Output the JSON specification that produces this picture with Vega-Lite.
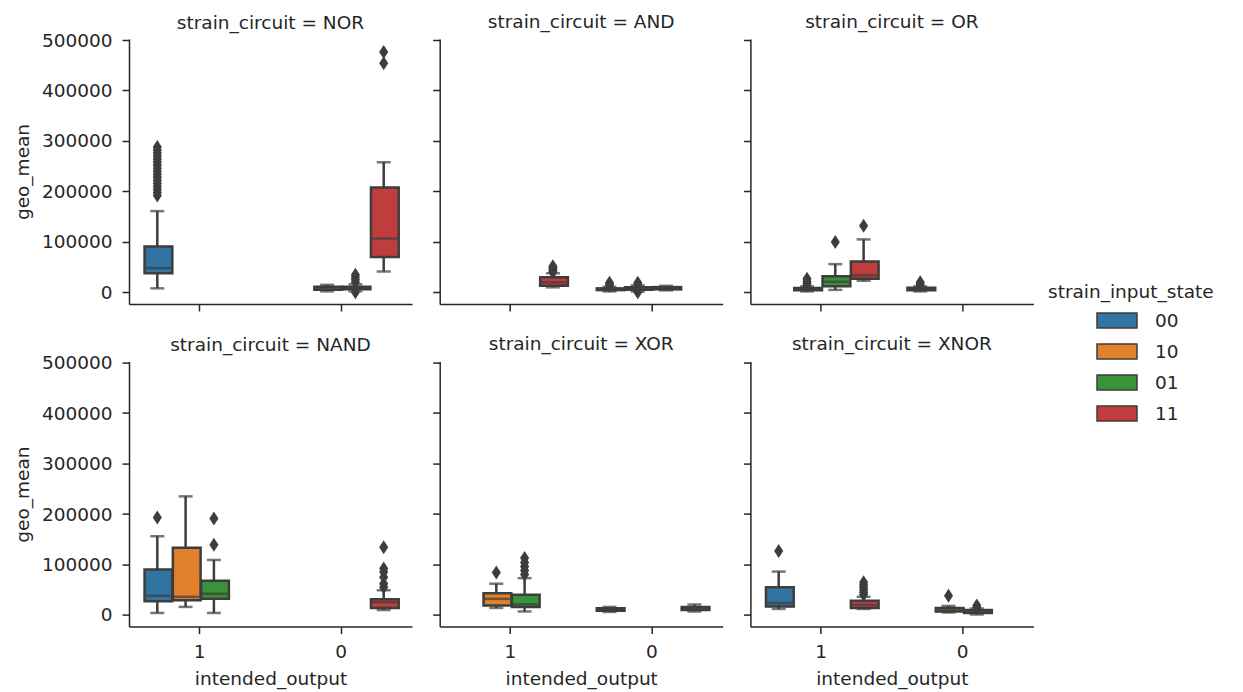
{
"$schema": "https://vega.github.io/schema/vega-lite/v6.json",
"padding": {"left": 13, "top": 12, "right": 5, "bottom": 2},
"datasets": {
"boxes": [
{"circuit":"NOR","output":"1","state":"00","lo":8000,"q1":38000,"med":48000,"q3":91000,"hi":161000},
{"circuit":"NOR","output":"0","state":"10","lo":2000,"q1":5000,"med":8000,"q3":11000,"hi":15000},
{"circuit":"NOR","output":"0","state":"01","lo":2000,"q1":6000,"med":8500,"q3":11000,"hi":16000},
{"circuit":"NOR","output":"0","state":"11","lo":41600,"q1":70000,"med":107000,"q3":208000,"hi":258000},
{"circuit":"AND","output":"1","state":"11","lo":10000,"q1":13000,"med":20000,"q3":30000,"hi":38000},
{"circuit":"AND","output":"0","state":"00","lo":2000,"q1":4500,"med":6000,"q3":8000,"hi":11000},
{"circuit":"AND","output":"0","state":"10","lo":1500,"q1":5000,"med":7500,"q3":10000,"hi":14000},
{"circuit":"AND","output":"0","state":"01","lo":4000,"q1":6000,"med":8000,"q3":10500,"hi":13000},
{"circuit":"OR","output":"0","state":"00","lo":2000,"q1":4000,"med":6000,"q3":9000,"hi":12000},
{"circuit":"OR","output":"1","state":"10","lo":2000,"q1":4000,"med":6000,"q3":8500,"hi":12000},
{"circuit":"OR","output":"1","state":"01","lo":5000,"q1":12000,"med":21000,"q3":32000,"hi":56000},
{"circuit":"OR","output":"1","state":"11","lo":23000,"q1":27000,"med":34000,"q3":61000,"hi":105000},
{"circuit":"NAND","output":"1","state":"00","lo":4000,"q1":27000,"med":38000,"q3":90000,"hi":156000},
{"circuit":"NAND","output":"1","state":"10","lo":16000,"q1":29000,"med":36000,"q3":133000,"hi":235000},
{"circuit":"NAND","output":"1","state":"01","lo":4000,"q1":32000,"med":42000,"q3":68000,"hi":109000},
{"circuit":"NAND","output":"0","state":"11","lo":10000,"q1":14000,"med":25000,"q3":31000,"hi":49000},
{"circuit":"XOR","output":"1","state":"10","lo":14000,"q1":19000,"med":32000,"q3":43000,"hi":62000},
{"circuit":"XOR","output":"1","state":"01","lo":7000,"q1":16000,"med":21000,"q3":40000,"hi":73000},
{"circuit":"XOR","output":"0","state":"00","lo":6000,"q1":8500,"med":11000,"q3":13500,"hi":16000},
{"circuit":"XOR","output":"0","state":"11","lo":7000,"q1":10000,"med":13000,"q3":16000,"hi":21000},
{"circuit":"XNOR","output":"1","state":"00","lo":12000,"q1":17000,"med":24000,"q3":55000,"hi":86000},
{"circuit":"XNOR","output":"1","state":"11","lo":12000,"q1":14000,"med":20000,"q3":28000,"hi":36000},
{"circuit":"XNOR","output":"0","state":"10","lo":5000,"q1":7000,"med":10000,"q3":14000,"hi":18000},
{"circuit":"XNOR","output":"0","state":"01","lo":1000,"q1":4000,"med":7000,"q3":10000,"hi":13000}
],
"outliers": [
{"circuit":"NOR","output":"1","state":"00","v":192000},
{"circuit":"NOR","output":"1","state":"00","v":198000},
{"circuit":"NOR","output":"1","state":"00","v":204000},
{"circuit":"NOR","output":"1","state":"00","v":210000},
{"circuit":"NOR","output":"1","state":"00","v":216000},
{"circuit":"NOR","output":"1","state":"00","v":222000},
{"circuit":"NOR","output":"1","state":"00","v":228000},
{"circuit":"NOR","output":"1","state":"00","v":234000},
{"circuit":"NOR","output":"1","state":"00","v":240000},
{"circuit":"NOR","output":"1","state":"00","v":246000},
{"circuit":"NOR","output":"1","state":"00","v":252000},
{"circuit":"NOR","output":"1","state":"00","v":258000},
{"circuit":"NOR","output":"1","state":"00","v":264000},
{"circuit":"NOR","output":"1","state":"00","v":270000},
{"circuit":"NOR","output":"1","state":"00","v":276000},
{"circuit":"NOR","output":"1","state":"00","v":282000},
{"circuit":"NOR","output":"1","state":"00","v":288000},
{"circuit":"NOR","output":"0","state":"01","v":20000},
{"circuit":"NOR","output":"0","state":"01","v":25000},
{"circuit":"NOR","output":"0","state":"01","v":30000},
{"circuit":"NOR","output":"0","state":"01","v":35000},
{"circuit":"NOR","output":"0","state":"01","v":300},
{"circuit":"NOR","output":"0","state":"11","v":454000},
{"circuit":"NOR","output":"0","state":"11","v":476000},
{"circuit":"AND","output":"1","state":"11","v":40000},
{"circuit":"AND","output":"1","state":"11","v":43000},
{"circuit":"AND","output":"1","state":"11","v":46000},
{"circuit":"AND","output":"1","state":"11","v":49000},
{"circuit":"AND","output":"1","state":"11","v":52000},
{"circuit":"AND","output":"0","state":"00","v":13000},
{"circuit":"AND","output":"0","state":"00","v":16000},
{"circuit":"AND","output":"0","state":"00","v":19000},
{"circuit":"AND","output":"0","state":"10","v":16000},
{"circuit":"AND","output":"0","state":"10","v":19000},
{"circuit":"AND","output":"0","state":"10","v":200},
{"circuit":"OR","output":"0","state":"00","v":14000},
{"circuit":"OR","output":"0","state":"00","v":17000},
{"circuit":"OR","output":"0","state":"00","v":20000},
{"circuit":"OR","output":"1","state":"10","v":14000},
{"circuit":"OR","output":"1","state":"10","v":18000},
{"circuit":"OR","output":"1","state":"10","v":22000},
{"circuit":"OR","output":"1","state":"10","v":27000},
{"circuit":"OR","output":"1","state":"01","v":100000},
{"circuit":"OR","output":"1","state":"11","v":132000},
{"circuit":"NAND","output":"1","state":"00","v":193000},
{"circuit":"NAND","output":"1","state":"01","v":139000},
{"circuit":"NAND","output":"1","state":"01","v":191000},
{"circuit":"NAND","output":"0","state":"11","v":55000},
{"circuit":"NAND","output":"0","state":"11","v":62000},
{"circuit":"NAND","output":"0","state":"11","v":75000},
{"circuit":"NAND","output":"0","state":"11","v":85000},
{"circuit":"NAND","output":"0","state":"11","v":92000},
{"circuit":"NAND","output":"0","state":"11","v":134000},
{"circuit":"XOR","output":"1","state":"10","v":84000},
{"circuit":"XOR","output":"1","state":"01","v":80000},
{"circuit":"XOR","output":"1","state":"01","v":88000},
{"circuit":"XOR","output":"1","state":"01","v":96000},
{"circuit":"XOR","output":"1","state":"01","v":104000},
{"circuit":"XOR","output":"1","state":"01","v":113000},
{"circuit":"XNOR","output":"1","state":"00","v":127000},
{"circuit":"XNOR","output":"1","state":"11","v":40000},
{"circuit":"XNOR","output":"1","state":"11","v":45000},
{"circuit":"XNOR","output":"1","state":"11","v":50000},
{"circuit":"XNOR","output":"1","state":"11","v":55000},
{"circuit":"XNOR","output":"1","state":"11","v":60000},
{"circuit":"XNOR","output":"1","state":"11","v":65000},
{"circuit":"XNOR","output":"0","state":"10","v":38000},
{"circuit":"XNOR","output":"0","state":"01","v":15000},
{"circuit":"XNOR","output":"0","state":"01","v":19000}
]
},
"columns": 3,
"spacing": {"row": 57.6, "column": 27.7},
"bounds": "flush",
"resolve": {"scale": {"fill": "shared"}, "legend": {"fill": "shared"}},
"concat": [
{"width":283,"height":265,"title":{"text":"strain_circuit = NOR","offset":-1.25},
 "layer":[
  {"data":{"name":"boxes"},"transform":[{"filter":"datum.circuit === 'NOR'"}],"mark":{"type":"rule","color":"#3d3d3d","strokeWidth":2.5},
   "encoding":{"x":{"field":"output","type":"nominal","scale":{"domain":["1","0"],"paddingInner":0,"paddingOuter":0},"axis":{"labels":false,"title":null}},
    "xOffset":{"field":"state","type":"nominal","scale":{"domain":["00","10","01","11"],"paddingInner":0,"paddingOuter":0.5}},
    "y":{"field":"lo","type":"quantitative","scale":{"domain":[-23000,502000],"nice":false,"zero":false},"axis":{"title":"geo_mean","values":[0,100000,200000,300000,400000,500000],"format":"d","labelPadding":10,"titlePadding":9}},"y2":{"field":"hi"}}},
  {"data":{"name":"boxes"},"transform":[{"filter":"datum.circuit === 'NOR'"}],"mark":{"type":"tick","color":"#3d3d3d","size":14,"thickness":2.5},
   "encoding":{"x":{"field":"output","type":"nominal"},"xOffset":{"field":"state","type":"nominal"},"y":{"field":"lo","type":"quantitative"}}},
  {"data":{"name":"boxes"},"transform":[{"filter":"datum.circuit === 'NOR'"}],"mark":{"type":"tick","color":"#3d3d3d","size":14,"thickness":2.5},
   "encoding":{"x":{"field":"output","type":"nominal"},"xOffset":{"field":"state","type":"nominal"},"y":{"field":"hi","type":"quantitative"}}},
  {"data":{"name":"boxes"},"transform":[{"filter":"datum.circuit === 'NOR'"}],"mark":{"type":"bar","stroke":"#3d3d3d","strokeWidth":2.5,"width":{"band":0.98}},
   "encoding":{"x":{"field":"output","type":"nominal"},"xOffset":{"field":"state","type":"nominal"},"y":{"field":"q1","type":"quantitative"},"y2":{"field":"q3"},
    "fill":{"field":"state","type":"nominal","scale":{"domain":["00","10","01","11"],"range":["#3274a1","#e1812c","#3a923a","#c03d3e"]},
     "legend":{"title":"strain_input_state","orient":"none","legendX":919,"legendY":244,"symbolType":"M-2,-0.75H2V0.75H-2Z","symbolSize":400,"symbolStrokeColor":"#3d3d3d","symbolStrokeWidth":1.5,"symbolOffset":58,"labelOffset":27,"rowPadding":9,"padding":0,"titlePadding":8}}}},
  {"data":{"name":"boxes"},"transform":[{"filter":"datum.circuit === 'NOR'"}],"mark":{"type":"tick","color":"#3d3d3d","size":27,"thickness":2.5},
   "encoding":{"x":{"field":"output","type":"nominal"},"xOffset":{"field":"state","type":"nominal"},"y":{"field":"med","type":"quantitative"}}},
  {"data":{"name":"outliers"},"transform":[{"filter":"datum.circuit === 'NOR'"}],"mark":{"type":"point","filled":true,"opacity":1,"color":"#3d3d3d","shape":"M0,-1L0.65,0L0,1L-0.65,0Z","size":196},
   "encoding":{"x":{"field":"output","type":"nominal"},"xOffset":{"field":"state","type":"nominal"},"y":{"field":"v","type":"quantitative"}}}
 ]},
{"width":283,"height":265,"title":{"text":"strain_circuit = AND","offset":8},
 "layer":[
  {"data":{"name":"boxes"},"transform":[{"filter":"datum.circuit === 'AND'"}],"mark":{"type":"rule","color":"#3d3d3d","strokeWidth":2.5},
   "encoding":{"x":{"field":"output","type":"nominal","scale":{"domain":["1","0"],"paddingInner":0,"paddingOuter":0},"axis":{"labels":false,"title":null}},
    "xOffset":{"field":"state","type":"nominal","scale":{"domain":["00","10","01","11"],"paddingInner":0,"paddingOuter":0.5}},
    "y":{"field":"lo","type":"quantitative","scale":{"domain":[-23000,502000],"nice":false,"zero":false},"axis":{"title":null,"labels":false,"values":[0,100000,200000,300000,400000,500000]}},"y2":{"field":"hi"}}},
  {"data":{"name":"boxes"},"transform":[{"filter":"datum.circuit === 'AND'"}],"mark":{"type":"tick","color":"#3d3d3d","size":14,"thickness":2.5},
   "encoding":{"x":{"field":"output","type":"nominal"},"xOffset":{"field":"state","type":"nominal"},"y":{"field":"lo","type":"quantitative"}}},
  {"data":{"name":"boxes"},"transform":[{"filter":"datum.circuit === 'AND'"}],"mark":{"type":"tick","color":"#3d3d3d","size":14,"thickness":2.5},
   "encoding":{"x":{"field":"output","type":"nominal"},"xOffset":{"field":"state","type":"nominal"},"y":{"field":"hi","type":"quantitative"}}},
  {"data":{"name":"boxes"},"transform":[{"filter":"datum.circuit === 'AND'"}],"mark":{"type":"bar","stroke":"#3d3d3d","strokeWidth":2.5,"width":{"band":0.98}},
   "encoding":{"x":{"field":"output","type":"nominal"},"xOffset":{"field":"state","type":"nominal"},"y":{"field":"q1","type":"quantitative"},"y2":{"field":"q3"},
    "fill":{"field":"state","type":"nominal"}}},
  {"data":{"name":"boxes"},"transform":[{"filter":"datum.circuit === 'AND'"}],"mark":{"type":"tick","color":"#3d3d3d","size":27,"thickness":2.5},
   "encoding":{"x":{"field":"output","type":"nominal"},"xOffset":{"field":"state","type":"nominal"},"y":{"field":"med","type":"quantitative"}}},
  {"data":{"name":"outliers"},"transform":[{"filter":"datum.circuit === 'AND'"}],"mark":{"type":"point","filled":true,"opacity":1,"color":"#3d3d3d","shape":"M0,-1L0.65,0L0,1L-0.65,0Z","size":196},
   "encoding":{"x":{"field":"output","type":"nominal"},"xOffset":{"field":"state","type":"nominal"},"y":{"field":"v","type":"quantitative"}}}
 ]},
{"width":283,"height":265,"title":{"text":"strain_circuit = OR","offset":8},
 "layer":[
  {"data":{"name":"boxes"},"transform":[{"filter":"datum.circuit === 'OR'"}],"mark":{"type":"rule","color":"#3d3d3d","strokeWidth":2.5},
   "encoding":{"x":{"field":"output","type":"nominal","scale":{"domain":["1","0"],"paddingInner":0,"paddingOuter":0},"axis":{"labels":false,"title":null}},
    "xOffset":{"field":"state","type":"nominal","scale":{"domain":["00","10","01","11"],"paddingInner":0,"paddingOuter":0.5}},
    "y":{"field":"lo","type":"quantitative","scale":{"domain":[-23000,502000],"nice":false,"zero":false},"axis":{"title":null,"labels":false,"values":[0,100000,200000,300000,400000,500000]}},"y2":{"field":"hi"}}},
  {"data":{"name":"boxes"},"transform":[{"filter":"datum.circuit === 'OR'"}],"mark":{"type":"tick","color":"#3d3d3d","size":14,"thickness":2.5},
   "encoding":{"x":{"field":"output","type":"nominal"},"xOffset":{"field":"state","type":"nominal"},"y":{"field":"lo","type":"quantitative"}}},
  {"data":{"name":"boxes"},"transform":[{"filter":"datum.circuit === 'OR'"}],"mark":{"type":"tick","color":"#3d3d3d","size":14,"thickness":2.5},
   "encoding":{"x":{"field":"output","type":"nominal"},"xOffset":{"field":"state","type":"nominal"},"y":{"field":"hi","type":"quantitative"}}},
  {"data":{"name":"boxes"},"transform":[{"filter":"datum.circuit === 'OR'"}],"mark":{"type":"bar","stroke":"#3d3d3d","strokeWidth":2.5,"width":{"band":0.98}},
   "encoding":{"x":{"field":"output","type":"nominal"},"xOffset":{"field":"state","type":"nominal"},"y":{"field":"q1","type":"quantitative"},"y2":{"field":"q3"},
    "fill":{"field":"state","type":"nominal"}}},
  {"data":{"name":"boxes"},"transform":[{"filter":"datum.circuit === 'OR'"}],"mark":{"type":"tick","color":"#3d3d3d","size":27,"thickness":2.5},
   "encoding":{"x":{"field":"output","type":"nominal"},"xOffset":{"field":"state","type":"nominal"},"y":{"field":"med","type":"quantitative"}}},
  {"data":{"name":"outliers"},"transform":[{"filter":"datum.circuit === 'OR'"}],"mark":{"type":"point","filled":true,"opacity":1,"color":"#3d3d3d","shape":"M0,-1L0.65,0L0,1L-0.65,0Z","size":196},
   "encoding":{"x":{"field":"output","type":"nominal"},"xOffset":{"field":"state","type":"nominal"},"y":{"field":"v","type":"quantitative"}}}
 ]},
{"width":283,"height":265,"title":{"text":"strain_circuit = NAND","offset":-1.25},
 "layer":[
  {"data":{"name":"boxes"},"transform":[{"filter":"datum.circuit === 'NAND'"}],"mark":{"type":"rule","color":"#3d3d3d","strokeWidth":2.5},
   "encoding":{"x":{"field":"output","type":"nominal","scale":{"domain":["1","0"],"paddingInner":0,"paddingOuter":0},"axis":{"title":"intended_output","labelAngle":0,"labelPadding":9,"titlePadding":8}},
    "xOffset":{"field":"state","type":"nominal","scale":{"domain":["00","10","01","11"],"paddingInner":0,"paddingOuter":0.5}},
    "y":{"field":"lo","type":"quantitative","scale":{"domain":[-23000,502000],"nice":false,"zero":false},"axis":{"title":"geo_mean","values":[0,100000,200000,300000,400000,500000],"format":"d","labelPadding":10,"titlePadding":9}},"y2":{"field":"hi"}}},
  {"data":{"name":"boxes"},"transform":[{"filter":"datum.circuit === 'NAND'"}],"mark":{"type":"tick","color":"#3d3d3d","size":14,"thickness":2.5},
   "encoding":{"x":{"field":"output","type":"nominal"},"xOffset":{"field":"state","type":"nominal"},"y":{"field":"lo","type":"quantitative"}}},
  {"data":{"name":"boxes"},"transform":[{"filter":"datum.circuit === 'NAND'"}],"mark":{"type":"tick","color":"#3d3d3d","size":14,"thickness":2.5},
   "encoding":{"x":{"field":"output","type":"nominal"},"xOffset":{"field":"state","type":"nominal"},"y":{"field":"hi","type":"quantitative"}}},
  {"data":{"name":"boxes"},"transform":[{"filter":"datum.circuit === 'NAND'"}],"mark":{"type":"bar","stroke":"#3d3d3d","strokeWidth":2.5,"width":{"band":0.98}},
   "encoding":{"x":{"field":"output","type":"nominal"},"xOffset":{"field":"state","type":"nominal"},"y":{"field":"q1","type":"quantitative"},"y2":{"field":"q3"},
    "fill":{"field":"state","type":"nominal"}}},
  {"data":{"name":"boxes"},"transform":[{"filter":"datum.circuit === 'NAND'"}],"mark":{"type":"tick","color":"#3d3d3d","size":27,"thickness":2.5},
   "encoding":{"x":{"field":"output","type":"nominal"},"xOffset":{"field":"state","type":"nominal"},"y":{"field":"med","type":"quantitative"}}},
  {"data":{"name":"outliers"},"transform":[{"filter":"datum.circuit === 'NAND'"}],"mark":{"type":"point","filled":true,"opacity":1,"color":"#3d3d3d","shape":"M0,-1L0.65,0L0,1L-0.65,0Z","size":196},
   "encoding":{"x":{"field":"output","type":"nominal"},"xOffset":{"field":"state","type":"nominal"},"y":{"field":"v","type":"quantitative"}}}
 ]},
{"width":283,"height":265,"title":{"text":"strain_circuit = XOR","offset":8},
 "layer":[
  {"data":{"name":"boxes"},"transform":[{"filter":"datum.circuit === 'XOR'"}],"mark":{"type":"rule","color":"#3d3d3d","strokeWidth":2.5},
   "encoding":{"x":{"field":"output","type":"nominal","scale":{"domain":["1","0"],"paddingInner":0,"paddingOuter":0},"axis":{"title":"intended_output","labelAngle":0,"labelPadding":9,"titlePadding":8}},
    "xOffset":{"field":"state","type":"nominal","scale":{"domain":["00","10","01","11"],"paddingInner":0,"paddingOuter":0.5}},
    "y":{"field":"lo","type":"quantitative","scale":{"domain":[-23000,502000],"nice":false,"zero":false},"axis":{"title":null,"labels":false,"values":[0,100000,200000,300000,400000,500000]}},"y2":{"field":"hi"}}},
  {"data":{"name":"boxes"},"transform":[{"filter":"datum.circuit === 'XOR'"}],"mark":{"type":"tick","color":"#3d3d3d","size":14,"thickness":2.5},
   "encoding":{"x":{"field":"output","type":"nominal"},"xOffset":{"field":"state","type":"nominal"},"y":{"field":"lo","type":"quantitative"}}},
  {"data":{"name":"boxes"},"transform":[{"filter":"datum.circuit === 'XOR'"}],"mark":{"type":"tick","color":"#3d3d3d","size":14,"thickness":2.5},
   "encoding":{"x":{"field":"output","type":"nominal"},"xOffset":{"field":"state","type":"nominal"},"y":{"field":"hi","type":"quantitative"}}},
  {"data":{"name":"boxes"},"transform":[{"filter":"datum.circuit === 'XOR'"}],"mark":{"type":"bar","stroke":"#3d3d3d","strokeWidth":2.5,"width":{"band":0.98}},
   "encoding":{"x":{"field":"output","type":"nominal"},"xOffset":{"field":"state","type":"nominal"},"y":{"field":"q1","type":"quantitative"},"y2":{"field":"q3"},
    "fill":{"field":"state","type":"nominal"}}},
  {"data":{"name":"boxes"},"transform":[{"filter":"datum.circuit === 'XOR'"}],"mark":{"type":"tick","color":"#3d3d3d","size":27,"thickness":2.5},
   "encoding":{"x":{"field":"output","type":"nominal"},"xOffset":{"field":"state","type":"nominal"},"y":{"field":"med","type":"quantitative"}}},
  {"data":{"name":"outliers"},"transform":[{"filter":"datum.circuit === 'XOR'"}],"mark":{"type":"point","filled":true,"opacity":1,"color":"#3d3d3d","shape":"M0,-1L0.65,0L0,1L-0.65,0Z","size":196},
   "encoding":{"x":{"field":"output","type":"nominal"},"xOffset":{"field":"state","type":"nominal"},"y":{"field":"v","type":"quantitative"}}}
 ]},
{"width":283,"height":265,"title":{"text":"strain_circuit = XNOR","offset":8},
 "layer":[
  {"data":{"name":"boxes"},"transform":[{"filter":"datum.circuit === 'XNOR'"}],"mark":{"type":"rule","color":"#3d3d3d","strokeWidth":2.5},
   "encoding":{"x":{"field":"output","type":"nominal","scale":{"domain":["1","0"],"paddingInner":0,"paddingOuter":0},"axis":{"title":"intended_output","labelAngle":0,"labelPadding":9,"titlePadding":8}},
    "xOffset":{"field":"state","type":"nominal","scale":{"domain":["00","10","01","11"],"paddingInner":0,"paddingOuter":0.5}},
    "y":{"field":"lo","type":"quantitative","scale":{"domain":[-23000,502000],"nice":false,"zero":false},"axis":{"title":null,"labels":false,"values":[0,100000,200000,300000,400000,500000]}},"y2":{"field":"hi"}}},
  {"data":{"name":"boxes"},"transform":[{"filter":"datum.circuit === 'XNOR'"}],"mark":{"type":"tick","color":"#3d3d3d","size":14,"thickness":2.5},
   "encoding":{"x":{"field":"output","type":"nominal"},"xOffset":{"field":"state","type":"nominal"},"y":{"field":"lo","type":"quantitative"}}},
  {"data":{"name":"boxes"},"transform":[{"filter":"datum.circuit === 'XNOR'"}],"mark":{"type":"tick","color":"#3d3d3d","size":14,"thickness":2.5},
   "encoding":{"x":{"field":"output","type":"nominal"},"xOffset":{"field":"state","type":"nominal"},"y":{"field":"hi","type":"quantitative"}}},
  {"data":{"name":"boxes"},"transform":[{"filter":"datum.circuit === 'XNOR'"}],"mark":{"type":"bar","stroke":"#3d3d3d","strokeWidth":2.5,"width":{"band":0.98}},
   "encoding":{"x":{"field":"output","type":"nominal"},"xOffset":{"field":"state","type":"nominal"},"y":{"field":"q1","type":"quantitative"},"y2":{"field":"q3"},
    "fill":{"field":"state","type":"nominal"}}},
  {"data":{"name":"boxes"},"transform":[{"filter":"datum.circuit === 'XNOR'"}],"mark":{"type":"tick","color":"#3d3d3d","size":27,"thickness":2.5},
   "encoding":{"x":{"field":"output","type":"nominal"},"xOffset":{"field":"state","type":"nominal"},"y":{"field":"med","type":"quantitative"}}},
  {"data":{"name":"outliers"},"transform":[{"filter":"datum.circuit === 'XNOR'"}],"mark":{"type":"point","filled":true,"opacity":1,"color":"#3d3d3d","shape":"M0,-1L0.65,0L0,1L-0.65,0Z","size":196},
   "encoding":{"x":{"field":"output","type":"nominal"},"xOffset":{"field":"state","type":"nominal"},"y":{"field":"v","type":"quantitative"}}}
 ]}
],
"config": {
 "font": "DejaVu Sans",
 "view": {"stroke": null},
 "axis": {"labelFontSize": 18.5, "labelColor": "#262626", "titleFontSize": 18.5, "titleColor": "#262626", "titleFontWeight": "normal",
  "domainColor": "#262626", "tickColor": "#262626", "domainWidth": 1.5, "tickWidth": 1.5, "tickSize": 7, "grid": false, "labelPadding": 6, "titlePadding": 7, "labelAngle": 0},
 "title": {"fontSize": 18.5, "fontWeight": "normal", "color": "#262626", "offset": 8},
 "legend": {"titleFontSize": 18.5, "labelFontSize": 18.5, "titleFontWeight": "normal", "titleColor": "#262626", "labelColor": "#262626"}
}
}
